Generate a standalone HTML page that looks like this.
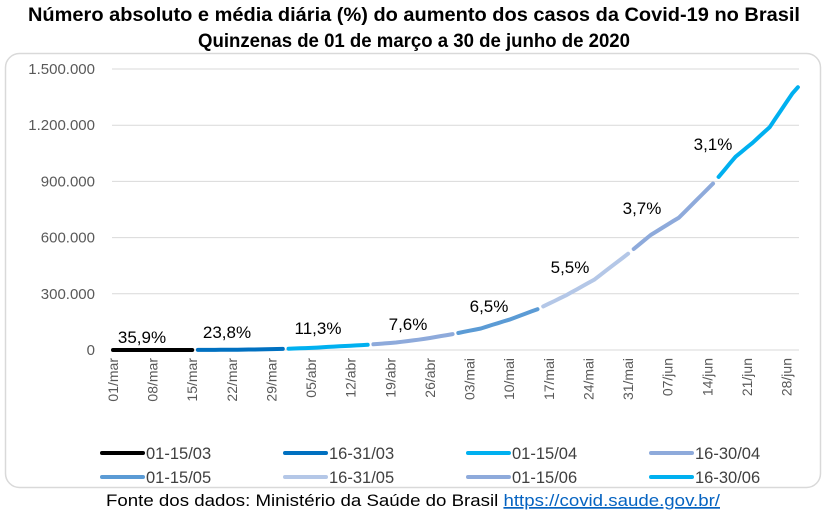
<!DOCTYPE html>
<html><head><meta charset="utf-8"><style>
body{margin:0;background:#fff;font-family:"Liberation Sans",sans-serif;}
</style></head><body>
<svg width="826" height="515" xmlns="http://www.w3.org/2000/svg" font-family="Liberation Sans, sans-serif">
<text x="414" y="21" text-anchor="middle" font-size="19.6" font-weight="bold" textLength="772" lengthAdjust="spacingAndGlyphs">Número absoluto e média diária (%) do aumento dos casos da Covid-19 no Brasil</text>
<text x="414" y="47" text-anchor="middle" font-size="19.6" font-weight="bold" textLength="432" lengthAdjust="spacingAndGlyphs">Quinzenas de 01 de março a 30 de junho de 2020</text>
<rect x="5.5" y="53.5" width="815" height="434" rx="14" fill="none" stroke="#d9d9d9" stroke-width="1.5"/>
<g id="grid" stroke="#d9d9d9" stroke-width="1"></g>
<g id="yl" font-size="15" fill="#595959" text-anchor="end"></g>
<g id="xl" font-size="14" fill="#595959"></g>
<g id="series" fill="none" stroke-width="4" stroke-linecap="round" stroke-linejoin="round"></g>
<g font-size="17" fill="#000" text-anchor="middle">
<text x="142" y="343">35,9%</text><text x="227" y="338">23,8%</text><text x="318" y="334">11,3%</text><text x="408" y="330">7,6%</text>
<text x="489" y="312">6,5%</text><text x="570" y="273">5,5%</text><text x="642" y="214">3,7%</text><text x="713" y="150">3,1%</text>
</g>
<g id="leg" font-size="16.5" fill="#404040"></g>
<text x="413" y="506" text-anchor="middle" font-size="17" fill="#000" textLength="614" lengthAdjust="spacingAndGlyphs">Fonte dos dados: Ministério da Saúde do Brasil <tspan fill="#0563c1" text-decoration="underline">https://covid.saude.gov.br/</tspan></text>
</svg>
<script>
var NS="http://www.w3.org/2000/svg";
function el(p,t,a,txt){var e=document.createElementNS(NS,t);for(var k in a)e.setAttribute(k,a[k]);if(txt!=null)e.textContent=txt;document.getElementById(p).appendChild(e);return e;}
var y0=350,px=56.2/300000;
function Y(v){return y0-v*px;}
function X(d){return 113+d*5.66;}
var labs=["0","300.000","600.000","900.000","1.200.000","1.500.000"];
for(var i=0;i<6;i++){var y=Y(i*300000);el("grid","line",{x1:112,x2:799,y1:y,y2:y});el("yl","text",{x:95,y:y+5},labs[i]);}
var xs=["01/mar","08/mar","15/mar","22/mar","29/mar","05/abr","12/abr","19/abr","26/abr","03/mai","10/mai","17/mai","24/mai","31/mai","07/jun","14/jun","21/jun","28/jun"];
for(var i=0;i<xs.length;i++){var x=X(i*7)+5;el("xl","text",{x:0,y:0,transform:"translate("+x+",358) rotate(-90)","text-anchor":"end"},xs[i]);}
var key=[[0,0],[14,200],[20,1100],[25,2900],[30,5700],[35,11000],[40,20000],[45,28000],[50,40000],[55,59000],[60,85000],[65,115000],[70,162000],[75,218000],[80,291000],[85,375000],[91,514000],[95,614000],[100,707000],[106,888000],[110,1032000],[113,1106000],[116,1189000],[120,1368000],[121,1403000]];
function val(d){for(var i=1;i<key.length;i++){if(d<=key[i][0]){var a=key[i-1],b=key[i];return a[1]+(b[1]-a[1])*(d-a[0])/(b[0]-a[0]);}}return key[key.length-1][1];}
var segs=[[0,14,"#000000"],[15,30,"#0070c0"],[31,45,"#00b0f0"],[46,60,"#8eaadb"],[61,75,"#5b9bd5"],[76,91,"#b4c7e7"],[92,106,"#8eaadb"],[107,121,"#00b0f0"]];
segs.forEach(function(s){var p=[];for(var d=s[0];d<=s[1];d++){p.push(X(d).toFixed(1)+","+Y(val(d)).toFixed(1));}el("series","polyline",{points:p.join(" "),stroke:s[2]});});
var names=["01-15/03","16-31/03","01-15/04","16-30/04","01-15/05","16-31/05","01-15/06","16-30/06"];
var cx=[102,285,468,651];
for(var i=0;i<8;i++){var x=cx[i%4],y=i<4?453:477;el("leg","line",{x1:x,x2:x+41,y1:y,y2:y,stroke:segs[i][2],"stroke-width":4,"stroke-linecap":"round"});el("leg","text",{x:x+44,y:y+6},names[i]);}
</script>
</body></html>
